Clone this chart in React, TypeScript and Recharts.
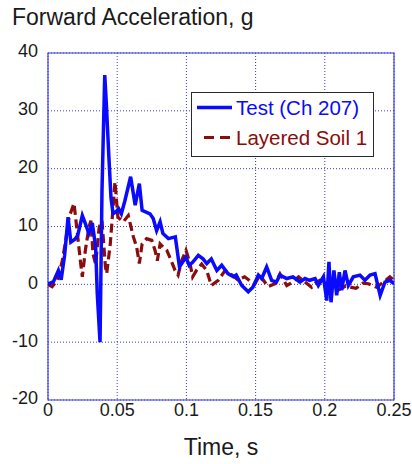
import React from 'react';
import { LineChart, Line, XAxis, YAxis, CartesianGrid, ReferenceArea, Label } from 'recharts';

// Test (Ch 207) record: time (s) and forward acceleration (g)
const testTime = [
  0, 0.004, 0.0075, 0.0095, 0.012, 0.0145, 0.0165, 0.0195, 0.0215, 0.0248,
  0.027, 0.0295, 0.032, 0.0344, 0.0356, 0.0376, 0.039, 0.041, 0.0422, 0.044,
  0.0455, 0.047, 0.049, 0.051, 0.053, 0.0556, 0.0597, 0.063, 0.066, 0.068,
  0.0737, 0.076, 0.0785, 0.081, 0.083, 0.087, 0.092, 0.095, 0.0997, 0.102,
  0.1045, 0.1086, 0.112, 0.1147, 0.118, 0.122, 0.1255, 0.13, 0.134, 0.136,
  0.14, 0.1447, 0.148, 0.152, 0.1544, 0.158, 0.1616, 0.165, 0.1676, 0.1725,
  0.177, 0.182, 0.1857, 0.189, 0.193, 0.1953, 0.199, 0.2014, 0.203, 0.2045,
  0.2066, 0.2086, 0.2105, 0.2122, 0.2146, 0.217, 0.2206, 0.2254, 0.229, 0.2327,
  0.2363, 0.24, 0.2435, 0.247, 0.25,
];
const testAccel = [
  0, 0.5, 2.4, 0.8, 5, 11.6, 7.3, 7.8, 8.5, 11.9,
  10.5, 8.8, 10.6, 6.5, -1.6, -10, 16, 36.2, 31, 22,
  15, 12.2, 12.5, 13.1, 12.2, 14.5, 18.6, 13.7, 17.4, 12.8,
  12.2, 11.4, 9.3, 10.8, 8.8, 7.9, 8.2, 3.0, 4.7, 3.3,
  3.8, 5.0, 4.4, 3.6, 4.4, 2.4, 3.3, 1.85, 1.3, 1.6,
  -0.2, -1.3, -0.5, 1.6, 1.0, 3.0, 0.7, 0.4, 1.6, 1.0,
  1.3, 0.4, 1.0, 0.7, 1.0, -0.2, 1.3, -2.8, 3.9, -3.1,
  2.4, -1.9, 2.1, -1.0, 2.4, -0.2, 1.3, 1.6, 0.7, 1.6,
  1.85, -1.9, 0.4, 0.7, 0.1,
];

// Layered Soil 1 simulation: time (s) and forward acceleration (g)
const soilTime = [
  0, 0.003, 0.0067, 0.0103, 0.0128, 0.0152, 0.0188, 0.021, 0.0236, 0.0248,
  0.027, 0.0296, 0.031, 0.0325, 0.0344, 0.037, 0.039, 0.0415, 0.0424, 0.045,
  0.0484, 0.0505, 0.0544, 0.058, 0.0617, 0.064, 0.066, 0.068, 0.0713, 0.075,
  0.0773, 0.079, 0.081, 0.083, 0.0858, 0.089, 0.0918, 0.094, 0.0966, 0.0997,
  0.1026, 0.1045, 0.1075, 0.111, 0.1147, 0.118, 0.123, 0.128, 0.133, 0.137,
  0.142, 0.146, 0.1496, 0.153, 0.159, 0.164, 0.1676, 0.1725, 0.177, 0.181,
  0.1845, 0.1905, 0.194, 0.1965, 0.201, 0.2045, 0.2098, 0.215, 0.2225, 0.2275,
  0.2315, 0.2375, 0.2435, 0.247, 0.25,
];
const soilAccel = [
  0, -0.4, 0.7, 4, 7.6, 11.6, 14, 9.3, 3.6, 1.3,
  5.9, 9.9, 11, 5.3, 3.5, 9.9, 11, 3, 1.85, 7,
  17.7, 11.6, 10.8, 11.9, 8.2, 6.5, 3.6, 7.0, 7.9, 7.6,
  5.9, 4.1, 7.0, 6.5, 5.9, 4.1, 2.4, 1.6, 4.1, 5.9,
  3.6, 1.3, 2.5, 3.5, 2.4, -0.2, 0.7, 2.4, 1.6, 0.8,
  1.3, 0.6, 0.1, 1.6, -0.4, 0.1, 1.8, -0.2, 0.4, 1.3,
  0.6, -0.5, 0.4, 0.7, 0.2, 0.1, -1.0, -0.3, -0.7, 0.2,
  0.1, -0.5, 0.6, 1.3, 0.7,
];

const xTicks = [0, 0.05, 0.1, 0.15, 0.2, 0.25];
const yTicks = [-20, -10, 0, 10, 20, 30, 40];

const titleText = 'Forward Acceleration, g';
const xLabelText = 'Time, s';
const testName = 'Test (Ch 207)';
const soilName = 'Layered Soil 1';

const testData = testTime.map((t, i) => ({ t, a: testAccel[i] }));
const soilData = soilTime.map((t, i) => ({ t, a: soilAccel[i] }));

const FONT = "'Liberation Sans', Arial, Helvetica, sans-serif";
const BLUE = '#0a0aff';
const DARK_RED = '#8a0c0c';
const FRAME = '#3b3be0';
const GRID = '#3c3cd8';

const YTick = (props: any) => {
  const { x, y, payload } = props;
  return (
    <text x={x} y={y - 2} dy="0.355em" textAnchor="end" fontSize={18} fontFamily={FONT} fill="#1a1a1a">
      {payload.value}
    </text>
  );
};

const XTick = (props: any) => {
  const { x, y, payload } = props;
  return (
    <text x={x} y={y} dy="0.71em" textAnchor="middle" fontSize={18} fontFamily={FONT} fill="#1a1a1a">
      {payload.value}
    </text>
  );
};

export default function App() {
  return (
    <div style={{ position: 'absolute', left: 0, top: 0, width: 412, height: 464, background: '#ffffff', fontFamily: FONT }}>
      <div
        style={{
          position: 'absolute',
          left: 12,
          top: 6,
          fontSize: 23,
          lineHeight: '23px',
          color: '#1a1a1a',
          whiteSpace: 'nowrap',
        }}
      >
        {titleText}
      </div>
      <LineChart width={412} height={464} margin={{ top: 53, right: 18, bottom: 0, left: 0 }}>
        <CartesianGrid stroke={GRID} strokeDasharray="1 2" strokeWidth={1} />
        <XAxis
          dataKey="t"
          type="number"
          domain={[0, 0.25]}
          ticks={xTicks}
          allowDataOverflow
          height={64}
          tickSize={0}
          tickMargin={3}
          tickLine={false}
          axisLine={false}
          tick={<XTick />}
          interval={0}
        >
          <Label
            value={xLabelText}
            position="insideBottom"
            offset={9}
            style={{ fontSize: 23, fontFamily: FONT, fill: '#1a1a1a' }}
          />
        </XAxis>
        <YAxis
          type="number"
          domain={[-20, 40]}
          ticks={yTicks}
          allowDataOverflow
          width={48}
          tickSize={0}
          tickMargin={10}
          tickLine={false}
          axisLine={false}
          tick={<YTick />}
          interval={0}
        />
        <ReferenceArea x1={0} x2={0.25} y1={-20} y2={40} fill="none" fillOpacity={0} stroke={FRAME} strokeWidth={1.2} />
        <Line
          data={soilData}
          dataKey="a"
          type="linear"
          stroke={DARK_RED}
          strokeWidth={3.2}
          strokeDasharray="9 4.5"
          dot={false}
          isAnimationActive={false}
        />
        <Line
          data={testData}
          dataKey="a"
          type="linear"
          stroke={BLUE}
          strokeWidth={3.5}
          dot={false}
          isAnimationActive={false}
        />
      </LineChart>
      <div
        style={{
          position: 'absolute',
          left: 191,
          top: 92,
          width: 181,
          height: 63,
          border: '1.5px solid #2a2a2a',
          background: '#ffffff',
          boxSizing: 'content-box',
        }}
      >
        <svg width={40} height={63} style={{ position: 'absolute', left: 0, top: 0 }}>
          <line x1={5} y1={14.5} x2={40} y2={14.5} stroke={BLUE} strokeWidth={3.5} />
          <line x1={12} y1={44.5} x2={40} y2={44.5} stroke={DARK_RED} strokeWidth={3.2} strokeDasharray="10 6" />
        </svg>
        <div style={{ position: 'absolute', left: 44, top: 3, fontSize: 20.5, lineHeight: '23px', color: BLUE, whiteSpace: 'nowrap' }}>
          {testName}
        </div>
        <div style={{ position: 'absolute', left: 44, top: 33, fontSize: 20.5, lineHeight: '23px', color: DARK_RED, whiteSpace: 'nowrap' }}>
          {soilName}
        </div>
      </div>
    </div>
  );
}
